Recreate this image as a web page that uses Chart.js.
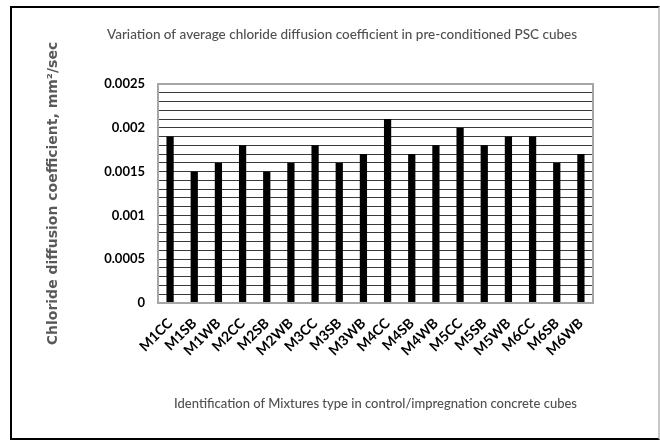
<!DOCTYPE html>
<html>
<head>
<meta charset="UTF-8">
<script src="https://cdn.jsdelivr.net/npm/chart.js@4.4.0/dist/chart.umd.min.js"></script>
<title>Chloride diffusion</title>
<style>
  body { margin: 0; background: #fff; }
  #frame { position: absolute; left: 10px; top: 6px; width: 646px; height: 430px;
           border-left: 2px solid #000; border-top: 2px solid #000;
           border-right: 2px solid #c8c8c8; border-bottom: 2px solid #000; }
  #wrap { position: absolute; left: 0; top: 0; width: 660px; height: 440px; }
</style>
</head>
<body>
<div id="frame"></div>
<div id="wrap"><canvas id="c" width="660" height="440"></canvas></div>
<script>
// data
var mixtures = ['M1CC','M1SB','M1WB','M2CC','M2SB','M2WB','M3CC','M3SB','M3WB',
                'M4CC','M4SB','M4WB','M5CC','M5SB','M5WB','M6CC','M6SB','M6WB'];
var diffusion = [0.0019,0.0015,0.0016,0.0018,0.0015,0.0016,0.0018,0.0016,0.0017,
                 0.0021,0.0017,0.0018,0.0020,0.0018,0.0019,0.0019,0.0016,0.0017];
var yTickLabels = ['0','0.0005','0.001','0.0015','0.002','0.0025'];
var chartTitle = 'Variation of average chloride diffusion coefficient in pre-conditioned PSC cubes';

var grey = '#595959';
var face = 'Lato, "Liberation Sans", sans-serif';

// plot box outline + chart title (title sits off-centre like the original)
var boxPlugin = {
  id: 'box',
  afterDatasetsDraw: function (chart) {
    var a = chart.chartArea, ctx = chart.ctx;
    ctx.save();
    ctx.strokeStyle = '#a6a6a6';
    ctx.lineWidth = 2;
    ctx.strokeRect(a.left, a.top, a.right - a.left, a.bottom - a.top);
    ctx.fillStyle = '#505050';
    ctx.font = '500 13.5px ' + face;
    ctx.textAlign = 'center';
    ctx.textBaseline = 'middle';
    ctx.fillText(chartTitle, 342, 35);
    ctx.restore();
  }
};

new Chart(document.getElementById('c'), {
  type: 'bar',
  data: {
    labels: mixtures,
    datasets: [{
      data: diffusion,
      backgroundColor: '#000',
      barPercentage: 0.6,
      categoryPercentage: 0.5
    }]
  },
  options: {
    responsive: false,
    animation: false,
    layout: { padding: { left: 40, right: 67, top: 84, bottom: 20 } },
    plugins: {
      legend: { display: false },
      tooltip: { enabled: false },
      title: { display: false }
    },
    scales: {
      x: {
        grid: { display: false },
        border: { display: false },
        ticks: {
          color: '#000',
          maxRotation: 45, minRotation: 45,
          autoSkip: false,
          padding: 4,
          font: { family: face, size: 14, weight: 'bold' }
        },
        title: {
          display: true,
          text: 'Identification of Mixtures type in control/impregnation concrete cubes',
          color: '#505050',
          font: { family: face, size: 13, weight: '500' },
          padding: { top: 0, bottom: 8 }
        },
        afterFit: function (s) { s.height = 117; }
      },
      y: {
        min: 0, max: 0.0025,
        afterBuildTicks: function (s) {
          var t = [];
          for (var i = 0; i <= 25; i++) t.push({ value: i * 0.0001 });
          s.ticks = t;
        },
        grid: {
          drawTicks: false,
          color: '#3a3a3a',
          lineWidth: 1
        },
        border: { color: '#a6a6a6', width: 2 },
        ticks: {
          color: '#000',
          padding: 13,
          autoSkip: false,
          font: { family: face, size: 13, weight: 'bold' },
          callback: function (v, i) { return i % 5 === 0 ? yTickLabels[i / 5] : ''; }
        },
        title: {
          display: true,
          text: 'Chloride diffusion coefficient, mm\u00b2/sec',
          color: grey,
          font: { family: 'DejaVu Sans', size: 14, weight: 'bold' },
          padding: { top: 5, bottom: 0 }
        },
        afterFit: function (s) { s.width = 118; }
      }
    }
  },
  plugins: [boxPlugin]
});
</script>
</body>
</html>
